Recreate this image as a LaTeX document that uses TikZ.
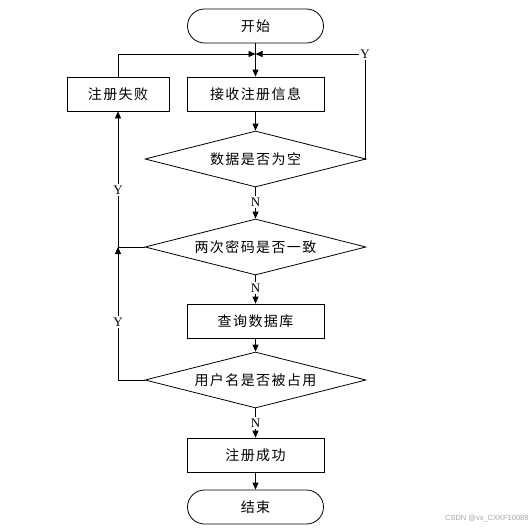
\documentclass[tikz,border=0pt]{standalone}
\usepackage{fontspec}
\setmainfont{Liberation Serif}
\newfontfamily\cjk[LetterSpace=10]{Noto Sans CJK SC}
\newfontfamily\wmfont{Liberation Sans}
\usetikzlibrary{shapes.geometric,arrows.meta}
\begin{document}
\begin{tikzpicture}[x=1pt,y=-1pt,
  line width=0.8pt,
  every node/.style={inner sep=0pt},
  cjkfont/.style={font=\cjk\fontsize{14}{16}\selectfont},
  proc/.style={draw, rectangle, minimum width=137pt, minimum height=34pt, cjkfont},
  term/.style={draw, rectangle, rounded corners=17pt, minimum width=136pt, minimum height=34pt, cjkfont},
  decision/.style={draw, diamond, aspect=3.95, minimum width=221pt, minimum height=56pt, cjkfont},
  lab/.style={font=\fontsize{13}{14}\selectfont, fill=white, inner sep=1pt},
  arr/.style={-{Triangle[length=7pt,width=6pt]}}
]
\useasboundingbox[fill=white] (0,0) rectangle (531,530);

\node[term] (start) at (255.5,26) {开始};
\node[proc] (recv) at (255.5,94) {接收注册信息};
\node[proc, minimum width=102pt] (fail) at (118,94) {注册失败};
\node[decision] (d1) at (255.5,159) {数据是否为空};
\node[decision] (d2) at (255.5,247) {两次密码是否一致};
\node[proc] (query) at (255.5,321) {查询数据库};
\node[decision] (d3) at (255.5,380) {用户名是否被占用};
\node[proc] (ok) at (255.5,455) {注册成功};
\node[term] (end) at (255.5,507) {结束};

\coordinate (merge) at (255.5,54);
\coordinate (corner) at (118,247);

\node[lab] (yr) at (365,54) {Y};
\node[lab] (n1) at (255.5,202) {N};
\node[lab] (n2) at (255.5,288) {N};
\node[lab] (n3) at (255.5,423) {N};
\node[lab] (y1) at (118,190) {Y};
\node[lab] (y2) at (118,322) {Y};

\draw[arr] (start.south) -- (recv.north);
\draw[arr] (recv.south) -- (d1.north);
\draw (d1.east) -| (yr.south);
\draw[arr] (yr.west) -- (merge);
\draw[arr] (fail.north) |- (merge);
\draw (d1.south) -- (n1.north);
\draw[arr] (n1.south) -- (d2.north);
\draw (d2.south) -- (n2.north);
\draw[arr] (n2.south) -- (query.north);
\draw[arr] (query.south) -- (d3.north);
\draw (d3.south) -- (n3.north);
\draw[arr] (n3.south) -- (ok.north);
\draw[arr] (ok.south) -- (end.north);
\draw (d2.west) -- (corner);
\draw (d3.west) -| (y2.south);
\draw[arr] (y2.north) -- (corner);
\draw (corner) -- (y1.south);
\draw[arr] (y1.north) -- (fail.south);

\node[font=\wmfont\fontsize{7.5}{9}\selectfont, text=black!35, anchor=east] (wm) at (529,519) {CSDN @vx\_CXKF10088};
\end{tikzpicture}
\end{document}
